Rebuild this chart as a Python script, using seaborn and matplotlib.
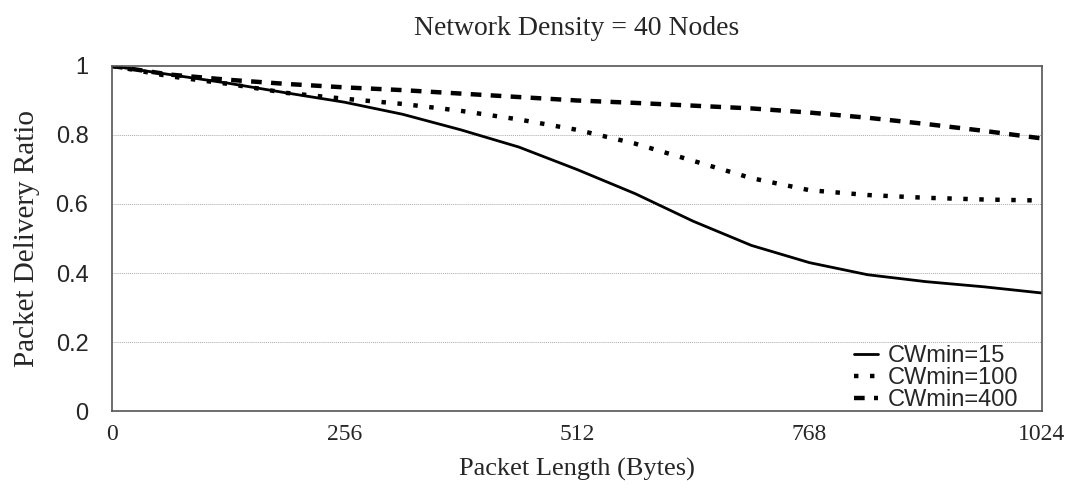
import pandas as pd
import matplotlib
matplotlib.use("Agg")
import matplotlib.pyplot as plt
import seaborn as sns

# packet length (bytes) and PDR
packet_len = [0, 64, 128, 192, 256, 320, 384, 448, 512, 576, 640, 704, 768, 832, 896, 960, 1024]
cw15 = [1.0, 0.975, 0.95, 0.922, 0.895, 0.86, 0.815, 0.765, 0.70, 0.63, 0.55, 0.48, 0.43, 0.395, 0.375, 0.36, 0.342]
cw100 = [1.0, 0.97, 0.948, 0.922, 0.905, 0.89, 0.87, 0.845, 0.815, 0.775, 0.725, 0.675, 0.64, 0.626, 0.618, 0.613, 0.61]
cw400 = [1.0, 0.975, 0.96, 0.948, 0.938, 0.93, 0.92, 0.91, 0.90, 0.893, 0.885, 0.877, 0.865, 0.85, 0.832, 0.812, 0.79]
labels = ["CWmin=15", "CWmin=100", "CWmin=400"]
x_ticks = [0, 256, 512, 768, 1024]
y_ticks = [0, 0.2, 0.4, 0.6, 0.8, 1]
y_tick_labels = ["0", "0.2", "0.4", "0.6", "0.8", "1"]

sns.set_theme(style="white")

fig = plt.figure(figsize=(10.7, 4.92), dpi=100)
ax = fig.add_axes([0.1047, 0.1646, 0.8691, 0.7013])

styles = [("-", 2.0), ((0, (1, 2.6)), 3.2), ((0, (2.4, 2.1)), 3.2)]
for vals, lab, (ls, lw) in zip([cw15, cw100, cw400], labels, styles):
    df = pd.DataFrame({"len": packet_len, "pdr": vals})
    sns.lineplot(data=df, x="len", y="pdr", ax=ax, color="black", linestyle=ls,
                 linewidth=lw, label=lab)

ax.set_xlim(0, 1024)
ax.set_ylim(0, 1)
ax.set_xticks(x_ticks)
ax.set_xticklabels([str(t) for t in x_ticks], family="Liberation Serif", fontsize=17)
ax.set_yticks(y_ticks)
ax.set_yticklabels(y_tick_labels, family="Liberation Sans", fontsize=17)
ax.tick_params(axis="both", length=0)
ax.tick_params(axis="x", pad=9)
ax.tick_params(axis="y", pad=17)

for yv in [0.2, 0.4, 0.6, 0.8]:
    ax.axhline(yv, color="#aaaaaa", linestyle=(0, (1, 1)), linewidth=0.7, zorder=0)

for s in ax.spines.values():
    s.set_color("#555555")
    s.set_linewidth(1.2)

ax.set_xlabel("Packet Length (Bytes)", family="Liberation Serif", fontsize=19, labelpad=10)
ax.set_ylabel("Packet Delivery Ratio", family="Liberation Serif", fontsize=21, labelpad=11)
ax.set_title("Network Density = 40 Nodes", family="Liberation Serif", fontsize=20, pad=22)

leg = ax.legend(loc="lower right", frameon=False, prop={"family": "Liberation Sans", "size": 17},
                handlelength=1.0, handletextpad=0.45, labelspacing=0.0,
                borderaxespad=0.0, borderpad=0.0, bbox_to_anchor=(0.975, 0.0))

fig.savefig("out.png", dpi=100)
